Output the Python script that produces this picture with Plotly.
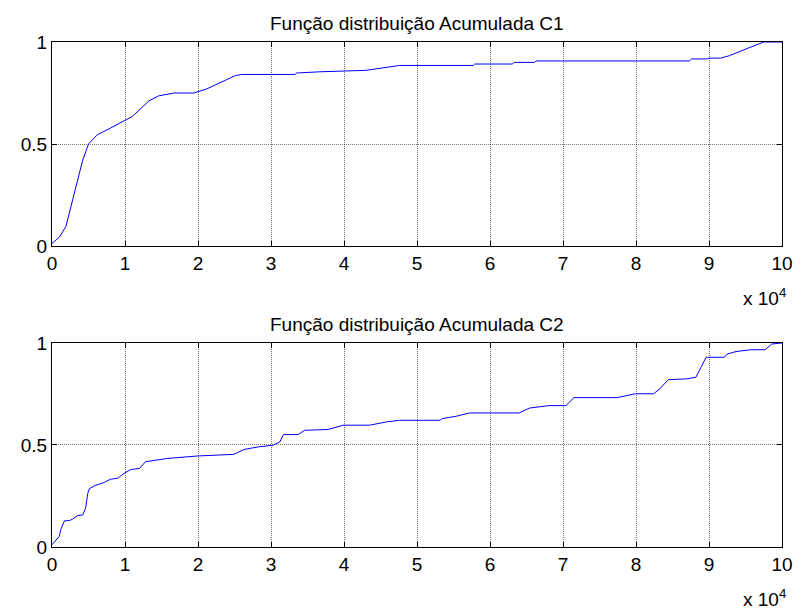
import plotly.graph_objects as go
from plotly.subplots import make_subplots

# x values in units of 10^4
c1_x = [0, 0.1, 0.19, 0.26, 0.35, 0.42, 0.5, 0.62, 0.80, 1.0, 1.1, 1.33, 1.46, 1.67, 1.94, 2.12,
        2.51, 2.6, 3.33, 3.35, 3.67, 4.3, 4.76, 5.77, 5.79, 6.31, 6.33, 6.61, 6.63, 8.73, 8.76,
        8.98, 9.0, 9.16, 9.28, 9.48, 9.75, 10.0]
c1_y = [0.013, 0.043, 0.095, 0.19, 0.32, 0.42, 0.50, 0.545, 0.578, 0.614, 0.635, 0.712, 0.736,
        0.75, 0.75, 0.77, 0.835, 0.841, 0.841, 0.848, 0.854, 0.861, 0.885, 0.885, 0.892, 0.892,
        0.90, 0.90, 0.907, 0.907, 0.917, 0.917, 0.921, 0.921, 0.933, 0.962, 1.0, 1.0]

c2_x = [0, 0.055, 0.1, 0.12, 0.17, 0.24, 0.28, 0.35, 0.42, 0.46, 0.49, 0.51, 0.58, 0.71, 0.80,
        0.9, 1.0, 1.08, 1.2, 1.28, 1.42, 1.58, 1.99, 2.49, 2.63, 2.83, 3.03, 3.12, 3.17, 3.37,
        3.46, 3.78, 3.99, 4.35, 4.58, 4.76, 5.32, 5.34, 5.54, 5.72, 6.40, 6.54, 6.81, 7.04, 7.15,
        7.74, 7.99, 8.24, 8.33, 8.44, 8.69, 8.82, 8.89, 8.96, 9.21, 9.25, 9.37, 9.57, 9.77, 9.86, 10.0]
c2_y = [0.011, 0.036, 0.052, 0.085, 0.128, 0.13, 0.136, 0.154, 0.157, 0.19, 0.263, 0.285, 0.30,
        0.316, 0.332, 0.337, 0.364, 0.38, 0.385, 0.418, 0.426, 0.434, 0.446, 0.454, 0.478, 0.491,
        0.499, 0.515, 0.551, 0.551, 0.572, 0.576, 0.597, 0.597, 0.613, 0.621, 0.621, 0.629, 0.641,
        0.657, 0.657, 0.681, 0.693, 0.693, 0.732, 0.732, 0.751, 0.751, 0.776, 0.82, 0.824, 0.832,
        0.88, 0.93, 0.93, 0.946, 0.958, 0.967, 0.967, 0.995, 1.0]

titles = ["Função distribuição Acumulada C1", "Função distribuição Acumulada C2"]
x_ticks = list(range(0, 11))
y_ticks = [0, 0.5, 1]
y_ticktext = ["0", "0.5", "1"]

FONT = "Liberation Sans, Arial, sans-serif"
FS = 19

fig = make_subplots(rows=2, cols=1, vertical_spacing=0.192)
fig.add_trace(go.Scatter(x=c1_x, y=c1_y, mode="lines", line=dict(color="#0000FF", width=1),
                         showlegend=False), row=1, col=1)
fig.add_trace(go.Scatter(x=c2_x, y=c2_y, mode="lines", line=dict(color="#0000FF", width=1),
                         showlegend=False), row=2, col=1)

axis_common = dict(showline=True, linecolor="black", linewidth=1, mirror="ticks",
                   ticks="inside", ticklen=5, tickcolor="black",
                   showgrid=True, gridcolor="rgba(0,0,0,0.55)", griddash="1px,1px", gridwidth=1,
                   zeroline=False, tickfont=dict(family=FONT, size=FS, color="black"))

for r in (1, 2):
    fig.update_xaxes(range=[0, 10], tickvals=x_ticks, ticktext=[str(v) for v in x_ticks],
                     **axis_common, row=r, col=1)
    fig.update_yaxes(range=[0, 1], tickvals=y_ticks, ticktext=y_ticktext,
                     **axis_common, row=r, col=1)

fig.layout.yaxis.domain = [0.596, 1.0]
fig.layout.yaxis2.domain = [0.0, 0.404]

annotations = []
for i, dom in enumerate([fig.layout.yaxis.domain, fig.layout.yaxis2.domain]):
    annotations.append(dict(text=titles[i], xref="paper", yref="paper", x=0.5, y=dom[1],
                            yshift=6, xanchor="center", yanchor="bottom", showarrow=False,
                            font=dict(family=FONT, size=FS, color="black")))
    annotations.append(dict(text="x 10<sup>4</sup>", xref="paper", yref="paper", x=1.0, y=dom[0],
                            yshift=-37, xshift=6, xanchor="right", yanchor="top", showarrow=False,
                            font=dict(family=FONT, size=FS, color="black")))

fig.update_layout(width=805, height=612, margin=dict(l=52, r=17, t=42, b=65),
                  paper_bgcolor="white", plot_bgcolor="white", annotations=annotations,
                  font=dict(family=FONT, size=FS, color="black"))

fig.write_html("out.html")
